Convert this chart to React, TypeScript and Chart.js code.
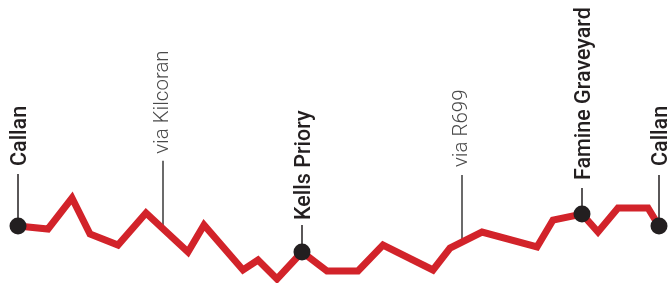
import React, { useEffect, useRef } from "react";
import { Chart, registerables } from "chart.js";

Chart.register(...registerables);

// Distance along route (km) and elevation (m), read from the profile
const distanceKm = [0, 3.0, 5.4, 7.2, 10.0, 12.8, 17.0, 18.6, 22.5, 24.0, 25.9, 28.4, 30.9, 34.0, 36.5, 41.5, 43.2, 46.4, 51.9, 53.5, 56.4, 58.0, 60.0, 63.0, 64.1];
const elevationM = [114, 108, 170, 98, 76, 140, 62, 116, 26, 46, 8, 62, 24, 24, 76, 26, 70, 102, 72, 126, 138, 102, 150, 150, 114];

// Waypoint labels (attached to a profile point)
const stopIndex = [0, 11, 20, 24];
const stopNames = ["Callan", "Kells Priory", "Famine Graveyard", "Callan"];

// Route notes (attached to a distance along the route)
const viaDistanceKm = [14.5, 44.4];
const viaNames = ["via Kilcoran", "via R699"];

// Styling (pixel offsets of the labels above the line)
const stopLeader = [52, 27, 26, 51];
const stopGap = [60, 32, 34, 60];
const viaLeader = [68, 67];
const viaGap = [75, 75];

const RED = "#d2232a";
const INK = "#231f20";

const labelPlugin = {
  id: "routeLabels",
  beforeDatasetsDraw(chart: any) {
    const ctx = chart.ctx;
    const meta = chart.getDatasetMeta(0);
    const xs = chart.scales.x;
    ctx.save();
    stopIndex.forEach((idx, i) => {
      const p = meta.data[idx];
      ctx.strokeStyle = INK;
      ctx.lineWidth = 1.5;
      ctx.beginPath();
      ctx.moveTo(p.x, p.y);
      ctx.lineTo(p.x, p.y - stopLeader[i]);
      ctx.stroke();
    });
    viaDistanceKm.forEach((d, i) => {
      const px = xs.getPixelForValue(d);
      let py = 0;
      for (let k = 0; k < meta.data.length - 1; k++) {
        const a = meta.data[k], b = meta.data[k + 1];
        if (px >= a.x && px <= b.x) {
          py = a.y + ((px - a.x) / (b.x - a.x)) * (b.y - a.y);
          break;
        }
      }
      ctx.strokeStyle = "#3a3a3a";
      ctx.lineWidth = 1.5;
      ctx.beginPath();
      ctx.moveTo(px, py);
      ctx.lineTo(px, py - viaLeader[i]);
      ctx.stroke();
      ctx.save();
      ctx.translate(px + 5, py - viaGap[i]);
      ctx.rotate(-Math.PI / 2);
      ctx.fillStyle = "#4a4a4a";
      ctx.font = "300 20.5px Roboto";
      ctx.textAlign = "left";
      ctx.textBaseline = "alphabetic";
      ctx.fillText(viaNames[i], 0, 0);
      ctx.restore();
    });
    stopIndex.forEach((idx, i) => {
      const p = meta.data[idx];
      ctx.save();
      ctx.translate(p.x + 8, p.y - stopGap[i]);
      ctx.rotate(-Math.PI / 2);
      ctx.fillStyle = INK;
      ctx.font = "500 21.5px Roboto";
      ctx.textAlign = "left";
      ctx.textBaseline = "alphabetic";
      ctx.fillText(stopNames[i], 0, 0);
      ctx.restore();
    });
    ctx.restore();
  },
};

export default function App() {
  const ref = useRef<HTMLCanvasElement>(null);
  useEffect(() => {
    document.body.style.margin = "0";
    const radii = distanceKm.map((_, i) => (stopIndex.includes(i) ? 8.5 : 0));
    const chart = new Chart(ref.current!, {
      type: "line",
      data: {
        datasets: [
          {
            data: distanceKm.map((d, i) => ({ x: d, y: elevationM[i] })),
            borderColor: RED,
            borderWidth: 7,
            borderJoinStyle: "miter",
            borderCapStyle: "butt",
            tension: 0,
            fill: false,
            pointRadius: radii,
            pointHoverRadius: radii,
            pointBackgroundColor: INK,
            pointBorderWidth: 0,
            clip: false as any,
          },
        ],
      },
      options: {
        responsive: false,
        animation: false,
        events: [],
        layout: { autoPadding: false, padding: { left: 18, right: 9, top: 0, bottom: 0 } },
        plugins: { legend: { display: false }, tooltip: { enabled: false } },
        scales: {
          x: { type: "linear", min: 0, max: 64.1, display: false },
          y: { min: 0, max: 566, display: false },
        },
      },
      plugins: [labelPlugin],
    });
    return () => chart.destroy();
  }, []);
  return (
    <div style={{ width: 668, height: 283, background: "#fff" }}>
      <canvas ref={ref} width={668} height={283} />
    </div>
  );
}
